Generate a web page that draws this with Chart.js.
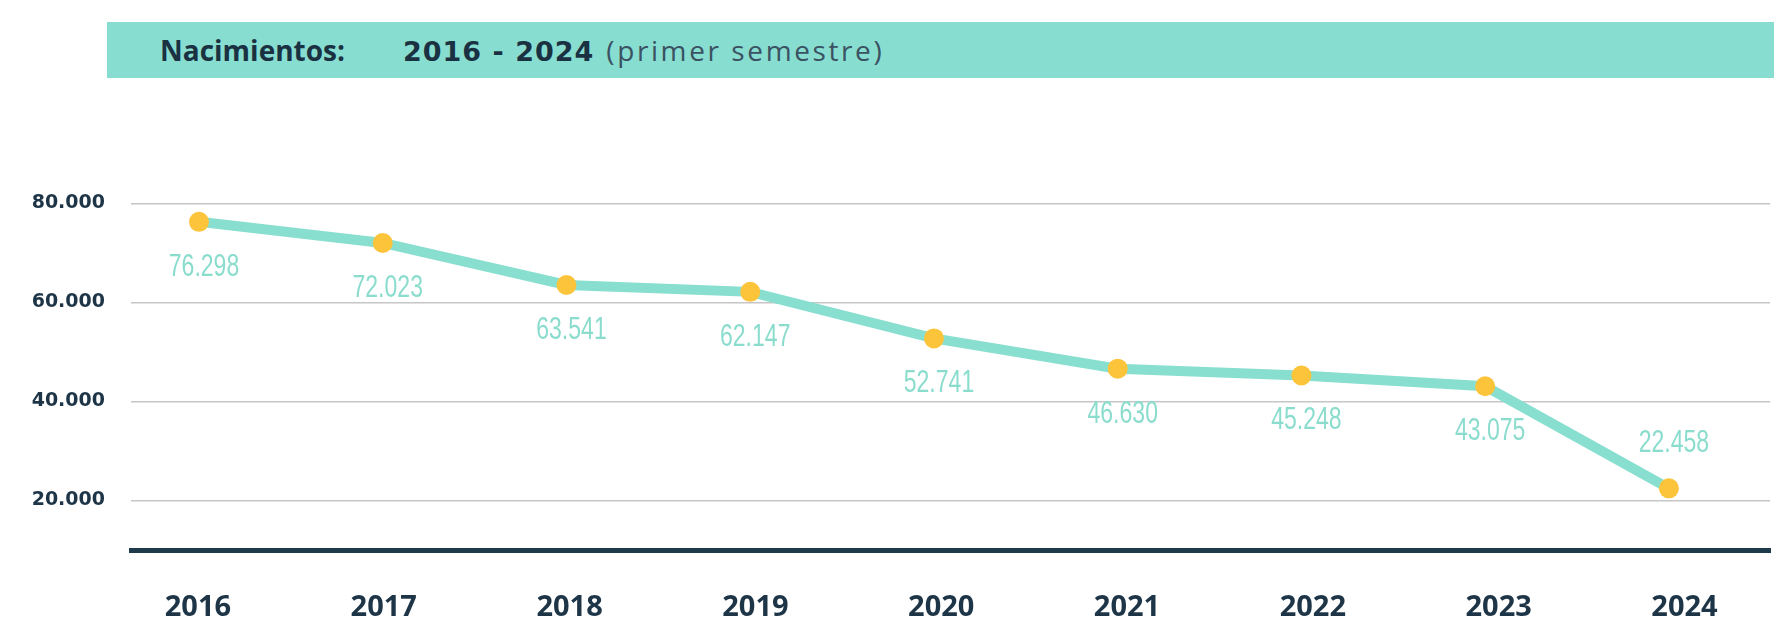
<!DOCTYPE html>
<html>
<head>
<meta charset="utf-8">
<title>Nacimientos 2016 - 2024</title>
<script src="https://cdn.jsdelivr.net/npm/chart.js@4.4.1/dist/chart.umd.min.js"></script>
<style>
html, body { margin: 0; padding: 0; background: #fff; }
#wrap { position: relative; width: 1783px; height: 640px; overflow: hidden; }
#grafico { position: absolute; left: 0; top: 0; }
#titulo {
    position: absolute; left: 107px; top: 22px; width: 1667px; height: 56px;
    background: #88ddd1; color: #1a3142; box-sizing: border-box;
    padding-left: 53px; line-height: 56px; white-space: nowrap;
    font-family: "Open Sans", sans-serif; font-size: 28px;
}
#titulo b { font-weight: 700; }
#titulo .anios { margin-left: 58px; font-family: "DejaVu Sans", sans-serif; font-size: 27px; letter-spacing: 1px; }
#titulo .sub { margin-left: 12px; font-weight: 400; color: #3a5261; letter-spacing: 2.6px; }
</style>
</head>
<body>
<div id="wrap">
    <canvas id="grafico" width="1783" height="640"></canvas>
    <div id="titulo"><b>Nacimientos:</b><b class="anios">2016 - 2024</b><span class="sub">(primer semestre)</span></div>
</div>
<script>
const YEARS = [2016, 2017, 2018, 2019, 2020, 2021, 2022, 2023, 2024];
const BIRTHS = [76298, 72023, 63541, 62147, 52741, 46630, 45248, 43075, 22458];
const Y_TICKS = [20000, 40000, 60000, 80000];

const NAVY = '#1d3547';
const TEAL = '#88dfd0';
const YELLOW = '#fcc43b';

// miles con punto, como en el original
const fmt = (v) => String(v).replace(/\B(?=(\d{3})+(?!\d))/g, '.');

// etiquetas de valor: debajo del punto, salvo el último (encima)
// se estrecha la letra para imitar una condensada
const valueLabels = {
    id: 'valueLabels',
    afterDatasetsDraw(chart) {
        const ctx = chart.ctx;
        const meta = chart.getDatasetMeta(0);
        meta.data.forEach((pt, i) => {
            const last = i === BIRTHS.length - 1;
            ctx.save();
            ctx.translate(pt.x + 5, last ? pt.y - 45 : pt.y + 45);
            ctx.scale(0.72, 1);
            ctx.font = '32px "Liberation Sans", Arial, sans-serif';
            ctx.fillStyle = '#8adccd';
            ctx.textAlign = 'center';
            ctx.textBaseline = 'middle';
            ctx.fillText(fmt(BIRTHS[i]), 0, 0);
            ctx.restore();
        });
    }
};

new Chart(document.querySelector('#grafico'), {
    type: 'line',
    data: {
        datasets: [
            {
                data: YEARS.map((y, i) => ({ x: y, y: BIRTHS[i] })),
                borderColor: TEAL,
                borderWidth: 10,
                pointRadius: 10,
                pointHoverRadius: 10,
                pointBackgroundColor: YELLOW,
                pointBorderWidth: 0,
                tension: 0,
                fill: false
            }
        ]
    },
    options: {
        responsive: false,
        animation: false,
        devicePixelRatio: 1,
        layout: { padding: { top: 154, right: 13, left: 0, bottom: 0 } },
        plugins: {
            legend: { display: false },
            tooltip: { enabled: false }
        },
        scales: {
            // eje de los puntos (sin texto)
            x: {
                type: 'linear',
                min: 2015.63,
                max: 2024.55,
                afterBuildTicks: (s) => { s.ticks = YEARS.map(v => ({ value: v })); },
                afterFit: (s) => { s.height = 0; },
                grid: { display: false, drawTicks: false },
                border: { display: false },
                ticks: { display: false }
            },
            // eje de los años, algo más abierto que los puntos como en el original
            xYears: {
                type: 'linear',
                position: 'bottom',
                min: 2015.64,
                max: 2024.46,
                afterBuildTicks: (s) => { s.ticks = YEARS.map(v => ({ value: v })); },
                afterFit: (s) => { s.height = 90; },
                grid: { display: false, drawTicks: false },
                border: { display: true, color: '#1f3a4b', width: 5 },
                ticks: {
                    autoSkip: false,
                    maxRotation: 0,
                    padding: 40,
                    color: NAVY,
                    font: { family: '"Open Sans", sans-serif', size: 29, weight: 'bold' },
                    callback: (v) => String(v)
                }
            },
            y: {
                min: 10000,
                max: 90000,
                afterBuildTicks: (s) => { s.ticks = Y_TICKS.map(v => ({ value: v })); },
                afterFit: (s) => { s.width = 131; },
                grid: { color: '#c6c6c6', lineWidth: 1.5, drawTicks: false },
                border: { display: false },
                ticks: {
                    padding: 26,
                    color: NAVY,
                    font: { family: '"DejaVu Sans", sans-serif', size: 19, weight: 'bold' },
                    callback: (v) => fmt(v)
                }
            }
        }
    },
    plugins: [valueLabels]
});
</script>
</body>
</html>
